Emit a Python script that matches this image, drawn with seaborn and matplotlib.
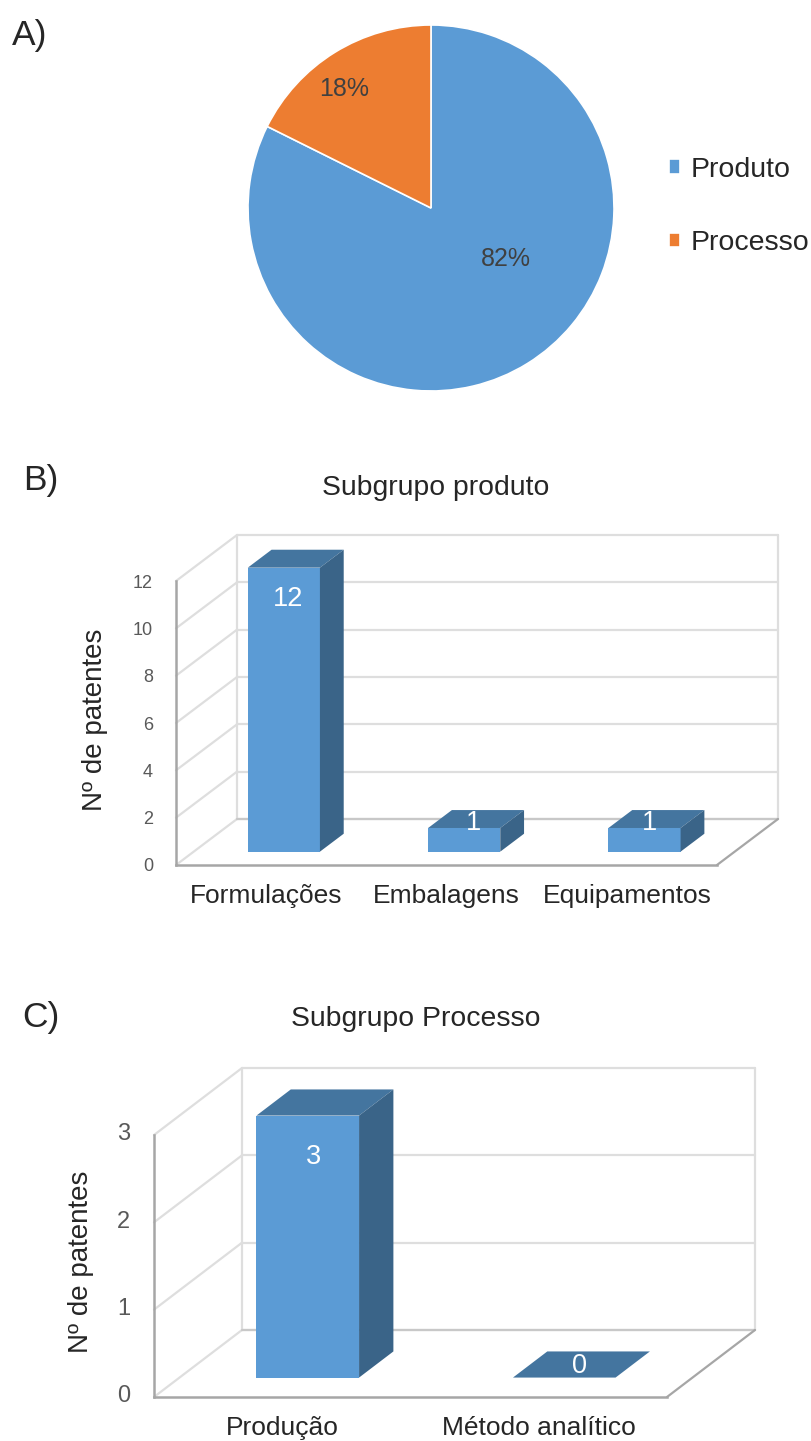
import matplotlib
matplotlib.use("Agg")
import matplotlib.pyplot as plt
from matplotlib.patches import Polygon
from matplotlib.transforms import ScaledTranslation
import seaborn as sns

W, H = 811, 1441

# Patent counts per group and subgroup
group_labels = ["Produto", "Processo"]
group_counts = [14, 3]

product_labels = ["Formulações", "Embalagens", "Equipamentos"]
product_counts = [12, 1, 1]
product_ticks = [0, 2, 4, 6, 8, 10, 12]

process_labels = ["Produção", "Método analítico"]
process_counts = [3, 0]
process_ticks = [0, 1, 2, 3]

BLUE, ORANGE = "#5B9BD5", "#ED7D31"
TOP, SIDE = "#44759F", "#3A6488"
GRID, AXIS = "#DEDEDE", "#A6A6A6"
INK, TICK = "#262626", "#595959"

sns.set_theme(style="white")
plt.rcParams["font.family"] = ["Liberation Sans", "DejaVu Sans"]

fig = plt.figure(figsize=(W / 100, H / 100), dpi=100)


def axes_px(left, top, right, bottom):
    """Axes from pixel edges measured from the top-left of the figure."""
    return fig.add_axes([left / W, 1 - bottom / H, (right - left) / W, (bottom - top) / H])


def bars_3d(ax, labels, counts, ticks, depth_px, tick_size, tick_pad, label_offsets):
    """Oblique 3-D column chart: flat seaborn bars pushed into a drawn box."""
    sns.barplot(x=labels, y=counts, color=BLUE, saturation=1, width=0.4, ax=ax, linewidth=0)
    n = len(labels)
    ymax = ticks[-1]
    ax.set_xlim(-0.5, n - 0.5)
    ax.set_ylim(0, ymax)
    bbox = ax.get_position()
    px_x = bbox.width * W / n
    px_y = bbox.height * H / ymax
    dx, dy = depth_px[0] / px_x, depth_px[1] / px_y
    x0, x1 = -0.5, n - 0.5

    def wall(xs, ys):
        ax.plot(xs, ys, color=GRID, lw=1.6, clip_on=False, zorder=0.5, solid_capstyle="round")

    for t in ticks:
        wall([x0 + dx, x1 + dx], [t + dy, t + dy])
        wall([x0, x0 + dx], [t, t + dy])
    wall([x0 + dx, x0 + dx], [dy, ymax + dy])
    wall([x1 + dx, x1 + dx], [dy, ymax + dy])
    ax.plot([x0 + dx, x1 + dx], [dy, dy], color="#C8C8C8", lw=1.6, clip_on=False, zorder=0.6)
    ax.plot([x1, x1 + dx], [0, dy], color=AXIS, lw=1.6, clip_on=False, zorder=0.6)

    # Columns stand 29% into the floor and take up 39% of its depth
    near, span = 0.29, 0.39
    for bar, count, off in zip(ax.containers[0], counts, label_offsets):
        bar.set_x(bar.get_x() + near * dx)
        bar.set_y(near * dy)
        bar.set_clip_on(False)
        bar.set_zorder(2)
        lft, rgt = bar.get_x(), bar.get_x() + bar.get_width()
        bot, top = bar.get_y(), bar.get_y() + bar.get_height()
        sx, sy = span * dx, span * dy
        ax.add_patch(Polygon([(lft, top), (rgt, top), (rgt + sx, top + sy), (lft + sx, top + sy)],
                             fc=TOP, ec="none", clip_on=False, zorder=2))
        ax.add_patch(Polygon([(rgt, bot), (rgt + sx, bot + sy), (rgt + sx, top + sy), (rgt, top)],
                             fc=SIDE, ec="none", clip_on=False, zorder=2))
        ax.annotate(str(count), xy=((lft + rgt) / 2, top), xytext=off, textcoords="offset pixels",
                    ha="center", va="center", color="white", fontsize=19.5, zorder=3,
                    annotation_clip=False)

    for side in ("top", "right"):
        ax.spines[side].set_visible(False)
    for side in ("left", "bottom"):
        ax.spines[side].set_visible(True)
        ax.spines[side].set_color(AXIS)
        ax.spines[side].set_linewidth(1.8)
        ax.spines[side].set_zorder(1)
    ax.set_yticks(ticks)
    ax.tick_params(axis="y", length=0, pad=tick_pad, labelsize=tick_size, labelcolor=TICK)
    ax.tick_params(axis="x", length=0, pad=13.5, labelsize=19, labelcolor=INK)
    ax.set_xlabel("")
    ax.set_ylabel("Nº de patentes", fontsize=20, color=INK)
    ax.patch.set_alpha(0)


# A) share of patents by group
ax_a = axes_px(248, 25, 614, 391)
wedges, _, autotexts = ax_a.pie(
    group_counts, colors=[BLUE, ORANGE], startangle=90, counterclock=False, radius=1,
    autopct="%.0f%%",
    wedgeprops={"edgecolor": "white", "linewidth": 1.2},
    textprops={"fontsize": 18, "color": "#404040"},
)
ax_a.set_xlim(-1, 1)
ax_a.set_ylim(-1, 1)
autotexts[0].set_position((0.41, -0.28))
autotexts[1].set_position((-0.475, 0.65))
fig.legend(wedges, group_labels, loc="center left", bbox_to_anchor=(643 / W, 1 - 206.5 / H),
           frameon=False, fontsize=20.5, handlelength=0.41, handleheight=0.41, handletextpad=0.38,
           labelspacing=1.66, labelcolor=INK)

# B) product subgroup
ax_b = axes_px(176, 581, 717, 865)
bars_3d(ax_b, product_labels, product_counts, product_ticks, (61, 46), 13, 16.5,
        [(4, -31), (9, 5), (5, 5)])
ax_b.yaxis.set_label_coords((108 - 176) / 541, (865 - 720) / 284)
ax_b.set_title("Subgrupo produto", x=(436 - 176) / 541, y=(865 - 488) / 284, va="center",
               pad=0, fontsize=20.4, color=INK)

# C) process subgroup
ax_c = axes_px(154, 1135, 667, 1397)
bars_3d(ax_c, process_labels, process_counts, process_ticks, (88, 67), 17, 17,
        [(6, -41), (15, 12)])
ax_c.yaxis.set_label_coords((94 - 154) / 513, (1397 - 1262) / 262)
ax_c.set_title("Subgrupo Processo", x=(416 - 154) / 513, y=(1397 - 1019) / 262, va="center",
               pad=0, fontsize=20.4, color=INK)
fig.canvas.draw()
for lab in ax_c.get_yticklabels():
    lab.set_transform(lab.get_transform() + ScaledTranslation(0, 3 / 100, fig.dpi_scale_trans))

for tag, xp, yp in (("A)", 12, 36), ("B)", 23, 480), ("C)", 22, 1018)):
    fig.text(xp / W, 1 - yp / H, tag, fontsize=25.5, color=INK, ha="left", va="center")

fig.savefig("out.png", dpi=100, facecolor="white")
